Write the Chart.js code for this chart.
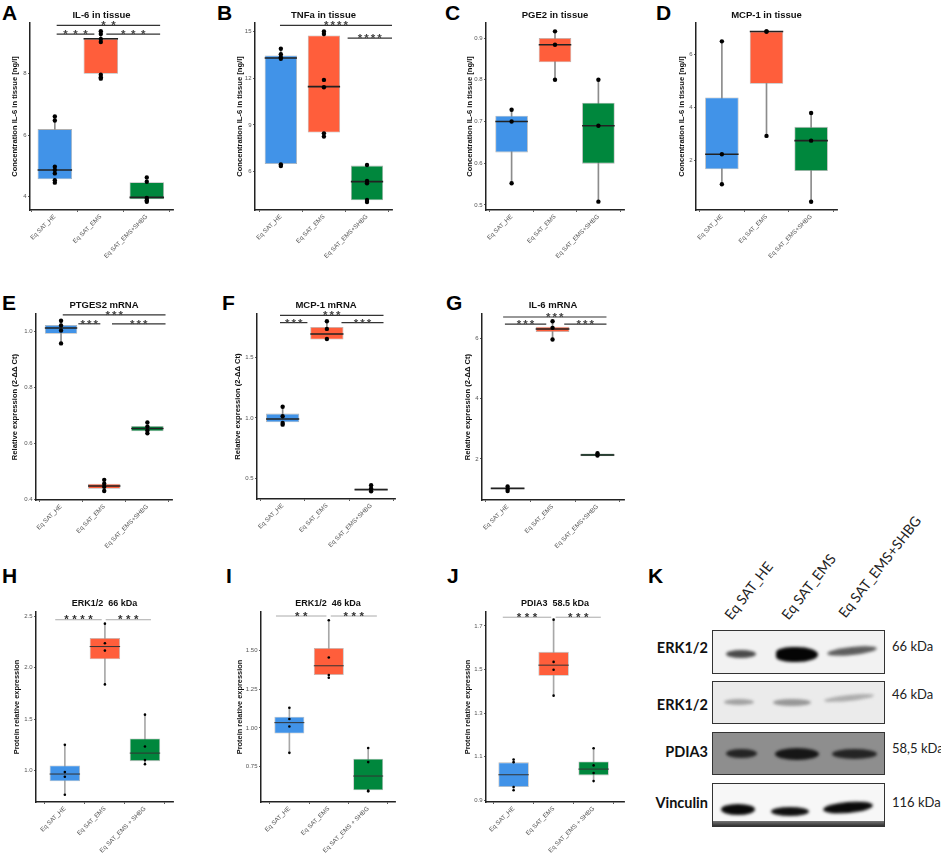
<!DOCTYPE html>
<html><head><meta charset="utf-8">
<script src="https://cdn.jsdelivr.net/npm/chart.js@4.4.1/dist/chart.umd.min.js"></script>
<style>
html,body{margin:0;padding:0;background:#fff;}
#root{position:relative;width:941px;height:853px;overflow:hidden;font-family:"Liberation Sans",Arial,sans-serif;}
.letter{position:absolute;font-weight:bold;font-size:21px;line-height:1;color:#000;}
.cv{position:absolute;}
.blot{position:absolute;border:1.5px solid #333;box-sizing:border-box;overflow:hidden;}
.band{position:absolute;border-radius:50%;filter:blur(1.4px);}
.rowlab{position:absolute;left:600px;width:108px;text-align:right;font-family:Lato,"Open Sans",sans-serif;font-weight:bold;font-size:14.5px;line-height:16px;color:#111;}
.kda{position:absolute;left:892px;font-family:Lato,"Open Sans",sans-serif;font-size:13px;line-height:16px;color:#222;white-space:nowrap;}
.collab{position:absolute;font-family:Lato,"Open Sans",sans-serif;font-size:14px;line-height:14px;color:#222;white-space:nowrap;transform-origin:0 100%;transform:rotate(-52deg);}
</style>
</head>
<body>
<div id="root">
  <div class="letter" style="left:2px;top:2px">A</div>
  <div class="letter" style="left:217px;top:2px">B</div>
  <div class="letter" style="left:445px;top:2px">C</div>
  <div class="letter" style="left:656px;top:2px">D</div>
  <div class="letter" style="left:2px;top:292px">E</div>
  <div class="letter" style="left:222px;top:292px">F</div>
  <div class="letter" style="left:446px;top:292px">G</div>
  <div class="letter" style="left:2px;top:565px">H</div>
  <div class="letter" style="left:226px;top:565px">I</div>
  <div class="letter" style="left:447px;top:565px">J</div>
  <div class="letter" style="left:648px;top:565px">K</div>

  <!-- Panel K: western blot -->
  <div class="collab" style="left:733px;top:608px">Eq SAT_HE</div>
  <div class="collab" style="left:790px;top:608px">Eq SAT_EMS</div>
  <div class="collab" style="left:847px;top:606px">Eq SAT_EMS+SHBG</div>

  <div class="rowlab" style="top:640px">ERK1/2</div>
  <div class="rowlab" style="top:697px">ERK1/2</div>
  <div class="rowlab" style="top:744px">PDIA3</div>
  <div class="rowlab" style="top:795px">Vinculin</div>

  <div class="kda" style="top:638px">66 kDa</div>
  <div class="kda" style="top:686px">46 kDa</div>
  <div class="kda" style="top:740px">58,5 kDa</div>
  <div class="kda" style="top:794px">116 kDa</div>

  <div class="blot" style="left:712px;top:630px;width:173px;height:44px;background:#f2f2f2">
    <div class="band" style="left:13px;top:19px;width:30px;height:8px;background:#4a4a4a"></div>
    <div class="band" style="left:63px;top:16px;width:42px;height:15px;background:#050505;border-radius:45% 60% 60% 45%"></div>
    <div class="band" style="left:114px;top:16px;width:50px;height:8px;background:#5e5e5e;transform:rotate(-6deg)"></div>
  </div>
  <div class="blot" style="left:712px;top:681px;width:173px;height:43px;background:#ebebeb">
    <div class="band" style="left:11px;top:17px;width:30px;height:6px;background:#a2a2a2"></div>
    <div class="band" style="left:60px;top:17px;width:38px;height:7px;background:#979797"></div>
    <div class="band" style="left:111px;top:13px;width:50px;height:6px;background:#adadad;transform:rotate(-6deg)"></div>
  </div>
  <div class="blot" style="left:712px;top:732px;width:173px;height:43px;background:#8e8e8e">
    <div class="band" style="left:13px;top:16px;width:31px;height:9px;background:#242424"></div>
    <div class="band" style="left:62px;top:15px;width:44px;height:12px;background:#161616"></div>
    <div class="band" style="left:119px;top:16px;width:45px;height:10px;background:#242424"></div>
  </div>
  <div class="blot" style="left:712px;top:783px;width:173px;height:44px;background:#f7f7f7">
    <div class="band" style="left:8px;top:20px;width:34px;height:11px;background:#0a0a0a"></div>
    <div class="band" style="left:58px;top:23px;width:38px;height:9px;background:#111"></div>
    <div class="band" style="left:110px;top:18px;width:50px;height:11px;background:#0a0a0a;transform:rotate(-5deg)"></div>
    <div style="position:absolute;left:0;top:37px;width:100%;height:6px;background:linear-gradient(#777,#222)"></div>
  </div>
</div>

<script>
// ---------------- DATA ----------------
const CATS    = ['Eq SAT_HE', 'Eq SAT_EMS', 'Eq SAT_EMS+SHBG'];
const CATS_WB = ['Eq SAT_HE', 'Eq SAT_EMS', 'Eq SAT_EMS + SHBG'];

// A: IL-6 in tissue
const A_YTICKS = ['4', '6', '8'];
const A_Q1  = [4.57, 8.00, 3.92];
const A_MED = [4.87, 9.14, 3.98];
const A_Q3  = [6.20, 9.14, 4.47];
const A_LO  = [4.46, 7.84, 3.84];
const A_HI  = [6.61, 9.38, 4.63];
const A_PTS = [[6.61, 6.48, 4.98, 4.87, 4.76, 4.54, 4.46], [9.38, 9.29, 9.13, 9.03, 7.97, 7.89, 7.84], [4.63, 4.49, 3.96, 3.89, 3.84]];
const A_SIG = [[0.04, 2.29, 9.57, '**'], [0.04, 0.86, 9.29, '***'], [1.12, 2.29, 9.29, '***']];

// B: TNFa in tissue
const B_YTICKS = ['6', '9', '12', '15'];
const B_Q1  = [6.49, 8.51, 4.16];
const B_MED = [13.29, 11.46, 5.36];
const B_Q3  = [13.46, 14.74, 6.39];
const B_LO  = [6.36, 8.25, 4.05];
const B_HI  = [13.89, 15.00, 6.43];
const B_PTS = [[13.89, 13.54, 13.35, 13.24, 6.47, 6.36], [15.00, 14.83, 11.89, 11.42, 8.46, 8.25], [6.43, 5.40, 5.25, 4.18, 4.05]];
const B_SIG = [[-0.02, 2.58, 15.39, '****'], [1.55, 2.58, 14.57, '****']];

// C: PGE2 in tissue
const C_YTICKS = ['0.5', '0.6', '0.7', '0.8', '0.9'];
const C_Q1  = [0.626, 0.842, 0.599];
const C_MED = [0.700, 0.884, 0.690];
const C_Q3  = [0.714, 0.900, 0.745];
const C_LO  = [0.552, 0.800, 0.508];
const C_HI  = [0.728, 0.916, 0.800];
const C_PTS = [[0.728, 0.700, 0.552], [0.916, 0.884, 0.800], [0.800, 0.690, 0.508]];
const C_SIG = [];

// D: MCP-1 in tissue
const D_YTICKS = ['2', '4', '6'];
const D_Q1  = [1.67, 4.89, 1.61];
const D_MED = [2.24, 6.86, 2.75];
const D_Q3  = [4.38, 6.86, 3.27];
const D_LO  = [1.11, 2.93, 0.45];
const D_HI  = [6.49, 6.86, 3.79];
const D_PTS = [[6.49, 2.24, 1.11], [6.86, 6.86, 2.93], [3.79, 2.75, 0.45]];
const D_SIG = [];

// E: PTGES2 mRNA
const E_YTICKS = ['0.4', '0.6', '0.8', '1.0'];
const E_Q1  = [0.9915, 0.438, 0.643];
const E_MED = [1.012, 0.448, 0.653];
const E_Q3  = [1.0225, 0.456, 0.662];
const E_LO  = [0.957, 0.430, 0.636];
const E_HI  = [1.038, 0.470, 0.675];
const E_PTS = [[1.038, 1.021, 1.003, 0.957], [0.470, 0.456, 0.445, 0.430], [0.675, 0.660, 0.646, 0.636]];
const E_SIG = [[0.04, 2.42, 1.059, '***'], [0.40, 0.91, 1.027, '***'], [1.18, 2.42, 1.027, '***']];

// F: MCP-1 mRNA
const F_YTICKS = ['0.5', '1.0', '1.5'];
const F_Q1  = [0.964, 1.646, 0.404];
const F_MED = [0.992, 1.692, 0.409];
const F_Q3  = [1.036, 1.750, 0.418];
const F_LO  = [0.945, 1.646, 0.396];
const F_HI  = [1.093, 1.797, 0.445];
const F_PTS = [[1.093, 1.014, 0.959, 0.945], [1.797, 1.734, 1.651], [0.445, 0.418, 0.396]];
const F_SIG = [[-0.06, 2.28, 1.846, '***'], [-0.06, 0.56, 1.786, '***'], [1.33, 2.28, 1.786, '***']];

// G: IL-6 mRNA
const G_YTICKS = ['2', '4', '6'];
const G_Q1  = [0.989, 6.22, 2.09];
const G_MED = [1.020, 6.32, 2.13];
const G_Q3  = [1.044, 6.40, 2.18];
const G_LO  = [0.930, 5.97, 2.09];
const G_HI  = [1.080, 6.58, 2.19];
const G_PTS = [[1.080, 1.000, 0.930], [6.58, 6.36, 5.97], [2.19, 2.11]];
const G_SIG = [[-0.10, 2.20, 6.72, '***'], [-0.06, 0.86, 6.48, '***'], [1.26, 2.20, 6.48, '***']];

// H: ERK1/2 66 kDa
const H_YTICKS = ['1.0', '1.5', '2.0', '2.5'];
const H_Q1  = [0.897, 2.081, 1.093];
const H_MED = [0.968, 2.204, 1.171];
const H_Q3  = [1.051, 2.287, 1.312];
const H_LO  = [0.768, 1.837, 1.064];
const H_HI  = [1.251, 2.426, 1.544];
const H_PTS = [[1.251, 0.987, 0.942, 0.768], [2.426, 2.236, 2.165, 1.837], [1.544, 1.235, 1.103, 1.064]];
const H_SIG = [[-0.24, 0.92, 2.464, '****'], [1.02, 2.15, 2.464, '***']];

// I: ERK1/2 46 kDa
const I_YTICKS = ['0.75', '1.00', '1.25', '1.50'];
const I_Q1  = [0.963, 1.343, 0.595];
const I_MED = [1.034, 1.403, 0.6875];
const I_Q3  = [1.073, 1.519, 0.800];
const I_LO  = [0.838, 1.325, 0.588];
const I_HI  = [1.131, 1.698, 0.869];
const I_PTS = [[1.131, 1.058, 1.009, 0.838], [1.698, 1.457, 1.343, 1.325], [0.869, 0.778, 0.593, 0.588]];
const I_SIG = [[-0.34, 0.94, 1.726, '**'], [1.05, 2.22, 1.726, '***']];

// J: PDIA3 58.5 kDa
const J_YTICKS = ['0.9', '1.1', '1.3', '1.5', '1.7'];
const J_Q1  = [0.961, 1.471, 1.014];
const J_MED = [1.017, 1.520, 1.043];
const J_Q3  = [1.074, 1.581, 1.078];
const J_LO  = [0.946, 1.380, 0.988];
const J_HI  = [1.087, 1.729, 1.139];
const J_PTS = [[1.087, 1.075, 0.961, 0.946], [1.729, 1.535, 1.499, 1.380], [1.139, 1.060, 1.025, 0.988]];
const J_SIG = [[-0.27, 0.94, 1.74, '***'], [1.05, 2.18, 1.74, '***']];

// ---------------- LAYOUT & STYLE ----------------
const FONT = '"Liberation Sans", Arial, Helvetica, sans-serif';
const BOX_FILL = ['#4193e8', '#ff5e3b', '#00873d'];
const STYLE_GG = {ptR: 2.2, boxBorder: 'rgba(150,150,150,0.75)', boxBW: 0.8, boxPct: 0.75, whisker: '#8c8c8c',
  medColor: '#222', medW: 1.6, axisW: 1.5, titleSize: 9.5, yTitleSize: 7.6, sigLine: '#333', sigW: 1.2,
  starColor: '#444', starSize: 11.5, starDy: 4};
const STYLE_WB = {ptR: 1.3, boxBorder: 'rgba(160,160,160,0.75)', boxBW: 0.8, boxPct: 0.76, whisker: '#a8a8a8',
  medColor: '#333', medW: 1, axisW: 1.5, titleSize: 9, yTitleSize: 7.4, sigLine: '#aaa', sigW: 1,
  starColor: '#333', starSize: 11.5, starDy: 3.5};

const PANELS = [
  {key:'A', L:0,   T:0,   H:280, pl:30,  pr:174, pt:23,  pb:210, titleY:15,  yTitleX:15,  xMin:-0.54, xMax:2.57, yMin:3.57,  yMax:9.65,  title:'IL-6 in tissue',  yTitle:'Concentration IL-6 in tissue [ng/l]', starGap:10, st:STYLE_GG, cats:CATS,
   d:{yt:A_YTICKS,q1:A_Q1,med:A_MED,q3:A_Q3,lo:A_LO,hi:A_HI,pts:A_PTS,sig:A_SIG}},
  {key:'B', L:225, T:0,   H:280, pl:255, pr:393, pt:23,  pb:210, titleY:15,  yTitleX:240, xMin:-0.60, xMax:2.58, yMin:3.54,  yMax:15.54, title:'TNFa in tissue',  yTitle:'Concentration IL-6 in tissue [ng/l]', starGap:6.5, st:STYLE_GG, cats:CATS,
   d:{yt:B_YTICKS,q1:B_Q1,med:B_MED,q3:B_Q3,lo:B_LO,hi:B_HI,pts:B_PTS,sig:B_SIG}},
  {key:'C', L:452, T:0,   H:280, pl:486, pr:625, pt:23,  pb:210, titleY:15,  yTitleX:470, xMin:-0.59, xMax:2.59, yMin:0.488, yMax:0.936, title:'PGE2 in tissue',  yTitle:'Concentration IL-6 in tissue [ng/l]', starGap:6.5, st:STYLE_GG, cats:CATS,
   d:{yt:C_YTICKS,q1:C_Q1,med:C_MED,q3:C_Q3,lo:C_LO,hi:C_HI,pts:C_PTS,sig:C_SIG}},
  {key:'D', L:668, T:0,   H:280, pl:696, pr:838, pt:23,  pb:210, titleY:15,  yTitleX:682, xMin:-0.58, xMax:2.58, yMin:0.14,  yMax:7.18,  title:'MCP-1 in tissue', yTitle:'Concentration IL-6 in tissue [ng/l]', starGap:6.5, st:STYLE_GG, cats:CATS,
   d:{yt:D_YTICKS,q1:D_Q1,med:D_MED,q3:D_Q3,lo:D_LO,hi:D_HI,pts:D_PTS,sig:D_SIG}},
  {key:'E', L:0,   T:285, H:290, pl:36,  pr:173, pt:314, pb:500, titleY:305, yTitleX:15,  xMin:-0.58, xMax:2.57, yMin:0.398, yMax:1.062, title:'PTGES2 mRNA', yTitle:'Relative expression (2-ΔΔ Ct)', starGap:6.5, st:STYLE_GG, cats:CATS,
   d:{yt:E_YTICKS,q1:E_Q1,med:E_MED,q3:E_Q3,lo:E_LO,hi:E_HI,pts:E_PTS,sig:E_SIG}},
  {key:'F', L:225, T:285, H:290, pl:257, pr:396, pt:314, pb:499, titleY:305, yTitleX:238, xMin:-0.58, xMax:2.54, yMin:0.332, yMax:1.857, title:'MCP-1 mRNA', yTitle:'Relative expression (2-ΔΔ Ct)', starGap:6.5, st:STYLE_GG, cats:CATS,
   d:{yt:F_YTICKS,q1:F_Q1,med:F_MED,q3:F_Q3,lo:F_LO,hi:F_HI,pts:F_PTS,sig:F_SIG}},
  {key:'G', L:450, T:285, H:290, pl:482, pr:625, pt:314, pb:500, titleY:305, yTitleX:468, xMin:-0.57, xMax:2.59, yMin:0.633, yMax:6.82,  title:'IL-6 mRNA', yTitle:'Relative expression (2-ΔΔ Ct)', starGap:6.5, st:STYLE_GG, cats:CATS,
   d:{yt:G_YTICKS,q1:G_Q1,med:G_MED,q3:G_Q3,lo:G_LO,hi:G_HI,pts:G_PTS,sig:G_SIG}},
  {key:'H', L:0,   T:575, H:278, pl:36,  pr:174, pt:612, pb:802, titleY:604, yTitleX:17,  xMin:-0.72, xMax:2.70, yMin:0.697, yMax:2.539, title:'ERK1/2  66 kDa', yTitle:'Protein relative expression', starGap:8, st:STYLE_WB, cats:CATS_WB,
   d:{yt:H_YTICKS,q1:H_Q1,med:H_MED,q3:H_Q3,lo:H_LO,hi:H_HI,pts:H_PTS,sig:H_SIG}},
  {key:'I', L:225, T:575, H:278, pl:261, pr:396, pt:612, pb:802, titleY:604, yTitleX:240, xMin:-0.72, xMax:2.68, yMin:0.519, yMax:1.752, title:'ERK1/2  46 kDa', yTitle:'Protein relative expression', starGap:8, st:STYLE_WB, cats:CATS_WB,
   d:{yt:I_YTICKS,q1:I_Q1,med:I_MED,q3:I_Q3,lo:I_LO,hi:I_HI,pts:I_PTS,sig:I_SIG}},
  {key:'J', L:450, T:575, H:278, pl:486, pr:625, pt:612, pb:802, titleY:604, yTitleX:468, xMin:-0.69, xMax:2.76, yMin:0.892, yMax:1.764, title:'PDIA3  58.5 kDa', yTitle:'Protein relative expression', starGap:8, st:STYLE_WB, cats:CATS_WB,
   d:{yt:J_YTICKS,q1:J_Q1,med:J_MED,q3:J_Q3,lo:J_LO,hi:J_HI,pts:J_PTS,sig:J_SIG}}
];

const root = document.getElementById('root');

function buildPanel(P) {
  const D = P.d, S = P.st, cats = P.cats;
  const W = P.pr - P.L + 3;
  const wrap = document.createElement('div');
  wrap.className = 'cv';
  wrap.style.left = P.L + 'px'; wrap.style.top = P.T + 'px';
  wrap.style.width = W + 'px'; wrap.style.height = P.H + 'px';
  const cv = document.createElement('canvas');
  cv.width = W; cv.height = P.H;
  cv.style.width = W + 'px'; cv.style.height = P.H + 'px';
  wrap.appendChild(cv); root.appendChild(wrap);

  const idx = cats.map((c, i) => i);
  const pts = [];
  D.pts.forEach((arr, i) => arr.forEach(v => pts.push({x: i, y: v})));

  const extras = {
    id: 'extras' + P.key,
    afterDatasetDraw(chart, args) {
      if (args.index !== 1) return;
      const ctx = chart.ctx, ys = chart.scales.y;
      ctx.save();
      ctx.strokeStyle = S.medColor; ctx.lineWidth = S.medW;
      args.meta.data.forEach((el, i) => {
        const py = ys.getPixelForValue(D.med[i]);
        ctx.beginPath(); ctx.moveTo(el.x - el.width / 2, py); ctx.lineTo(el.x + el.width / 2, py); ctx.stroke();
      });
      ctx.restore();
    },
    afterDraw(chart) {
      const ctx = chart.ctx, xs = chart.scales.x, ys = chart.scales.y, ca = chart.chartArea;
      ctx.save();
      ctx.fillStyle = '#111';
      ctx.font = 'bold ' + S.titleSize + 'px ' + FONT;
      ctx.textAlign = 'center'; ctx.textBaseline = 'middle';
      ctx.fillText(P.title, (ca.left + ca.right) / 2, P.titleY - P.T);
      D.sig.forEach(s => {
        const x1 = xs.getPixelForValue(s[0]), x2 = xs.getPixelForValue(s[1]), y = ys.getPixelForValue(s[2]);
        ctx.strokeStyle = S.sigLine; ctx.lineWidth = S.sigW;
        ctx.beginPath(); ctx.moveTo(x1, y); ctx.lineTo(x2, y); ctx.stroke();
        ctx.fillStyle = S.starColor;
        ctx.font = 'bold ' + S.starSize + 'px ' + FONT;
        ctx.textBaseline = 'alphabetic'; ctx.textAlign = 'center';
        const n = s[3].length, mid = (x1 + x2) / 2;
        for (let k = 0; k < n; k++) ctx.fillText('*', mid + (k - (n - 1) / 2) * P.starGap, y + S.starDy);
      });
      ctx.restore();
    }
  };

  new Chart(cv, {
    type: 'bar',
    data: {
      datasets: [
        {type: 'scatter', data: pts, pointRadius: S.ptR, pointBackgroundColor: '#000', pointBorderWidth: 0, order: 0},
        {type: 'bar', data: idx.map(i => ({x: i, y: [D.q1[i], D.q3[i]]})), backgroundColor: BOX_FILL,
         borderColor: S.boxBorder, borderWidth: S.boxBW, borderSkipped: false, barPercentage: S.boxPct,
         categoryPercentage: 1, grouped: false, order: 2},
        {type: 'bar', data: idx.map(i => ({x: i, y: [D.lo[i], D.hi[i]]})), backgroundColor: S.whisker,
         barThickness: 1, grouped: false, order: 3}
      ]
    },
    options: {
      responsive: false, animation: false, events: [],
      layout: {padding: {top: P.pt - P.T, right: 3, left: 0, bottom: 0}},
      plugins: {legend: {display: false}, tooltip: {enabled: false}, title: {display: false}},
      scales: {
        x: {
          type: 'linear', min: P.xMin, max: P.xMax, offset: false,
          afterBuildTicks: ax => { ax.ticks = idx.map(i => ({value: i})); },
          afterFit: ax => { ax.height = P.T + P.H - P.pb; },
          ticks: {autoSkip: false, minRotation: 45, maxRotation: 45, padding: 1, color: '#555',
                  font: {family: FONT, size: 6.2}, callback: v => cats[Math.round(v)]},
          grid: {drawOnChartArea: false, drawTicks: true, tickLength: 2, color: '#333', lineWidth: 0.8},
          border: {display: true, color: '#222', width: S.axisW}
        },
        y: {
          type: 'linear', min: P.yMin, max: P.yMax,
          afterBuildTicks: ax => { ax.ticks = D.yt.map(s => ({value: Number(s)})); },
          afterFit: ax => { ax.width = P.pl - P.L; },
          ticks: {padding: 1.5, color: '#555', font: {family: FONT, size: 6},
                  callback: v => { const s = D.yt.find(t => Math.abs(Number(t) - v) < 1e-9); return s === undefined ? '' : s; }},
          grid: {drawOnChartArea: false, drawTicks: true, tickLength: 2, color: '#333', lineWidth: 0.8},
          border: {display: true, color: '#222', width: S.axisW},
          title: {display: true, text: P.yTitle, color: '#111',
                  font: {family: FONT, size: S.yTitleSize, weight: 'bold'},
                  padding: {top: Math.max(0, P.yTitleX - P.L - S.yTitleSize * 0.6), bottom: 0}}
        }
      }
    },
    plugins: [extras]
  });
}

PANELS.forEach(buildPanel);
</script>
</body></html>
